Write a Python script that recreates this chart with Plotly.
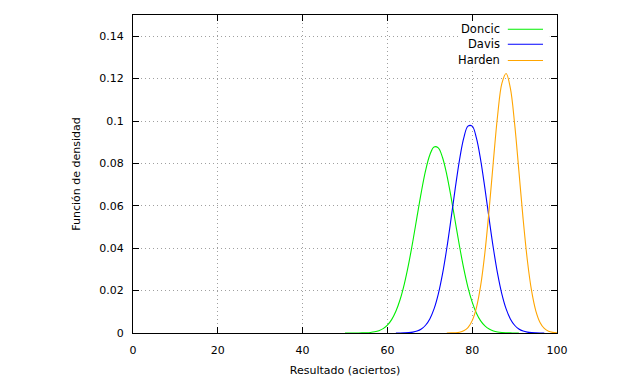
import plotly.graph_objects as go

# ---- data ----
doncic_x = list(range(50, 92))
doncic_y = [0.0000013, 0.000003, 0.0000092, 0.000023, 0.000055, 0.000126, 0.00027,
            0.00056, 0.00111, 0.00208, 0.00371, 0.00631, 0.01023, 0.01579, 0.02320,
            0.03247, 0.04329, 0.05497, 0.06647, 0.07656, 0.08399, 0.08776, 0.08733,
            0.08277, 0.07472, 0.06424, 0.05261, 0.04103, 0.03048, 0.02157, 0.01454,
            0.00932, 0.00570, 0.00332, 0.00184, 0.00097, 0.00049, 0.00023, 0.00011,
            0.000046, 0.00002, 0.0000076]

davis_x = list(range(62, 98))
davis_y = [0.00001, 0.00003, 0.000076, 0.000185, 0.000427, 0.000927, 0.0019, 0.00366,
           0.00665, 0.01137, 0.01834, 0.02786, 0.03985, 0.0537, 0.06819, 0.08157,
           0.09191, 0.09757, 0.09757, 0.09191, 0.08157, 0.06819, 0.0537, 0.03985,
           0.02786, 0.01834, 0.01137, 0.00665, 0.00366, 0.0019, 0.000927, 0.000427,
           0.000185, 0.000076, 0.00003, 0.00001]

harden_x = list(range(74, 101))
harden_y = [0.00001, 0.000037, 0.000123, 0.000372, 0.00103, 0.00257, 0.00584, 0.01201,
            0.02243, 0.03798, 0.05833, 0.08128, 0.10272, 0.11776, 0.12244, 0.11548,
            0.0988, 0.07666, 0.05395, 0.03445, 0.01995, 0.01047, 0.00499, 0.00216,
            0.00085, 0.0003, 0.0001]

series_names = ["Doncic", "Davis", "Harden"]
series_colors = ["#00ee00", "#0000ff", "#ffa500"]
x_ticks = [0, 20, 40, 60, 80, 100]
y_ticks = [0, 0.02, 0.04, 0.06, 0.08, 0.1, 0.12, 0.14]

FONT = "DejaVu Sans"

fig = go.Figure()
for xs, ys, name, col in zip([doncic_x, davis_x, harden_x],
                             [doncic_y, davis_y, harden_y],
                             series_names, series_colors):
    fig.add_trace(go.Scatter(x=xs, y=ys, mode="lines", name=name,
                             line=dict(color=col, width=1.1, shape="spline"),
                             showlegend=False, hoverinfo="skip"))

# manual gnuplot-style legend (text right, sample line to the right of text)
shapes = [dict(type="rect", xref="paper", yref="paper", x0=0.77, x1=0.983,
               y0=0.835, y1=0.978, fillcolor="white", line=dict(width=0),
               layer="above")]
annotations = []
rows_y = [0.955, 0.908, 0.857]
for name, col, yy in zip(series_names, series_colors, rows_y):
    annotations.append(dict(xref="paper", yref="paper", x=0.871, y=yy, text=name,
                            showarrow=False, xanchor="right", yanchor="middle",
                            font=dict(family=FONT, size=11.5, color="black")))
    shapes.append(dict(type="line", xref="paper", yref="paper", x0=0.884, x1=0.967,
                       y0=yy, y1=yy, line=dict(color=col, width=1.1), layer="above"))

axis_common = dict(showline=True, linecolor="black", linewidth=1, mirror="ticks",
                   ticks="inside", ticklen=6, tickcolor="black", tickwidth=1,
                   showgrid=True, gridcolor="#a0a0a0", griddash="1px,3px", gridwidth=1,
                   zeroline=False, tickfont=dict(family=FONT, size=11, color="black"))

# page body has an 8px default margin: compensate so the plot box lands where it should
fig.update_layout(
    width=640, height=384,
    margin=dict(l=125, r=91, t=7, b=59),
    paper_bgcolor="white", plot_bgcolor="white",
    font=dict(family=FONT, size=11, color="black"),
    xaxis=dict(range=[0, 100], tickvals=x_ticks, ticktext=[str(v) for v in x_ticks],
               title=dict(text="Resultado (aciertos)", standoff=10,
                          font=dict(family=FONT, size=11)),
               ticklabelstandoff=7, **axis_common),
    yaxis=dict(range=[0, 0.15], tickvals=y_ticks, ticktext=[f"{v:g}" for v in y_ticks],
               title=dict(text="Función de densidad", standoff=16,
                          font=dict(family=FONT, size=11)),
               ticklabelstandoff=6, **axis_common),
    shapes=shapes, annotations=annotations,
)

fig.write_html("out.html")
